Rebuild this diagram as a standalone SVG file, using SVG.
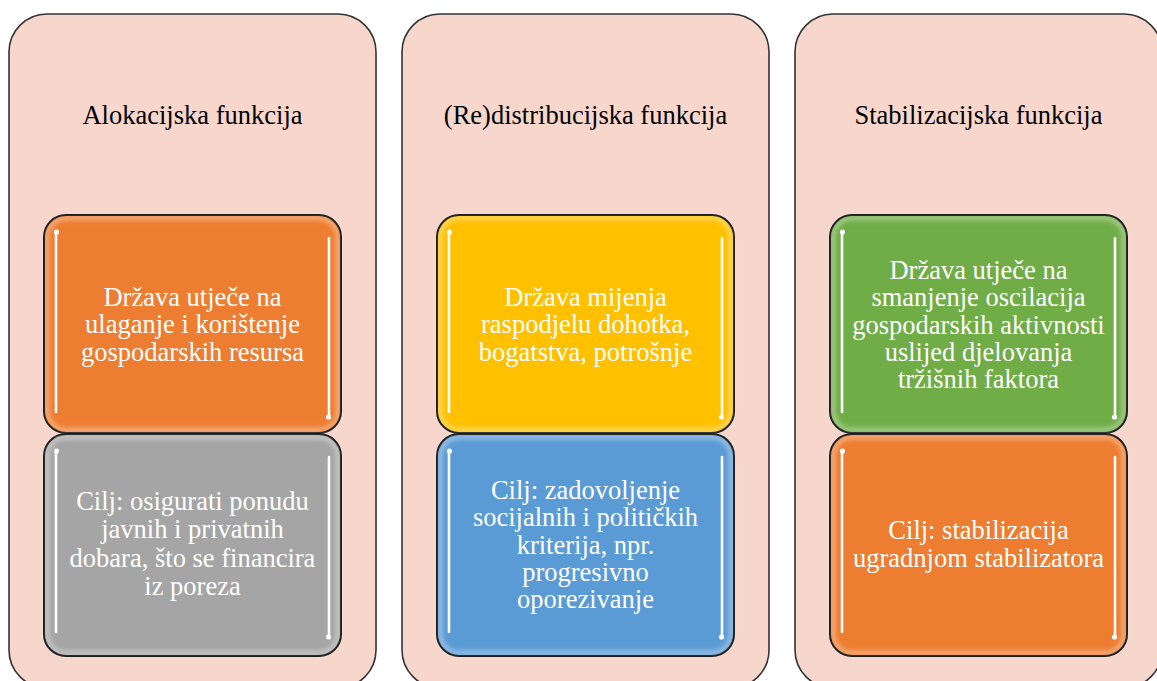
<svg xmlns="http://www.w3.org/2000/svg" width="1157" height="681" viewBox="0 0 1157 681">
<defs>
<filter id="soft" x="-20%" y="-20%" width="140%" height="140%"><feGaussianBlur stdDeviation="2"/></filter>
<filter id="glow" x="-200%" y="-10%" width="500%" height="120%"><feGaussianBlur stdDeviation="1.6"/></filter>
</defs>
<style>
.panel{fill:#F7D6CC;stroke:#333;stroke-width:1.6}
.title{font-family:"Liberation Serif","Times New Roman",serif;font-size:26.5px;fill:#000;text-anchor:middle}
.box{stroke:#000;stroke-width:2}
.edge{fill:none;stroke:#fff;stroke-opacity:0.35;stroke-width:5;filter:url(#soft)}
.halo{stroke:#fff;stroke-opacity:0.6;stroke-width:7;stroke-linecap:round;filter:url(#glow)}
.bar{stroke:#fff;stroke-width:2.6;stroke-linecap:round}
.dot{fill:#fff}
.txt{font-family:"Liberation Serif","Times New Roman",serif;font-size:26.5px;fill:#fff;text-anchor:middle}
</style>
<rect width="1157" height="681" fill="#fff"/>

<g id="panel-alokacijska">
<rect class="panel" x="9" y="14" width="367" height="674" rx="38"/>
<text class="title" x="192.5" y="124">Alokacijska funkcija</text>
</g>
<g id="panel-redistribucijska">
<rect class="panel" x="402" y="14" width="367" height="674" rx="38"/>
<text class="title" x="585.5" y="124">(Re)distribucijska funkcija</text>
</g>
<g id="panel-stabilizacijska">
<rect class="panel" x="795" y="14" width="367" height="674" rx="38"/>
<text class="title" x="978.5" y="124">Stabilizacijska funkcija</text>
</g>

<g id="box-alok-1">
<rect class="box" x="44" y="215" width="297" height="218" rx="22" fill="#ED7D31"/>
<rect class="edge" x="47" y="218" width="291" height="212" rx="19"/>
<line class="halo" x1="56" y1="232" x2="56" y2="412"/><line class="bar" x1="56" y1="232" x2="56" y2="412"/><circle class="dot" cx="56.5" cy="232" r="2.6"/>
<line class="halo" x1="329" y1="238" x2="329" y2="417"/><line class="bar" x1="329" y1="238" x2="329" y2="417"/><circle class="dot" cx="328.5" cy="417" r="2.6"/>
<text class="txt" x="192.5" y="306">Država utječe na</text>
<text class="txt" x="192.5" y="333.3">ulaganje i korištenje</text>
<text class="txt" x="192.5" y="360.6">gospodarskih resursa</text>
</g>
<g id="box-alok-2">
<rect class="box" x="44" y="434" width="297" height="222" rx="22" fill="#A5A5A5"/>
<rect class="edge" x="47" y="437" width="291" height="216" rx="19"/>
<line class="halo" x1="56" y1="451" x2="56" y2="632"/><line class="bar" x1="56" y1="451" x2="56" y2="632"/><circle class="dot" cx="56.5" cy="451" r="2.6"/>
<line class="halo" x1="329" y1="457" x2="329" y2="637"/><line class="bar" x1="329" y1="457" x2="329" y2="637"/><circle class="dot" cx="328.5" cy="637" r="2.6"/>
<text class="txt" x="192.5" y="510">Cilj: osigurati ponudu</text>
<text class="txt" x="192.5" y="538.3">javnih i privatnih</text>
<text class="txt" x="192.5" y="566.6">dobara, što se financira</text>
<text class="txt" x="192.5" y="594.6">iz poreza</text>
</g>

<g id="box-redis-1">
<rect class="box" x="437" y="215" width="297" height="218" rx="22" fill="#FFC000"/>
<rect class="edge" x="440" y="218" width="291" height="212" rx="19"/>
<line class="halo" x1="449" y1="232" x2="449" y2="412"/><line class="bar" x1="449" y1="232" x2="449" y2="412"/><circle class="dot" cx="449.5" cy="232" r="2.6"/>
<line class="halo" x1="722" y1="238" x2="722" y2="417"/><line class="bar" x1="722" y1="238" x2="722" y2="417"/><circle class="dot" cx="721.5" cy="417" r="2.6"/>
<text class="txt" x="585.5" y="306">Država mijenja</text>
<text class="txt" x="585.5" y="333.3">raspodjelu dohotka,</text>
<text class="txt" x="585.5" y="360.6">bogatstva, potrošnje</text>
</g>
<g id="box-redis-2">
<rect class="box" x="437" y="434" width="297" height="222" rx="22" fill="#5B9BD5"/>
<rect class="edge" x="440" y="437" width="291" height="216" rx="19"/>
<line class="halo" x1="449" y1="451" x2="449" y2="632"/><line class="bar" x1="449" y1="451" x2="449" y2="632"/><circle class="dot" cx="449.5" cy="451" r="2.6"/>
<line class="halo" x1="722" y1="457" x2="722" y2="637"/><line class="bar" x1="722" y1="457" x2="722" y2="637"/><circle class="dot" cx="721.5" cy="637" r="2.6"/>
<text class="txt" x="585.5" y="499">Cilj: zadovoljenje</text>
<text class="txt" x="585.5" y="526.3">socijalnih i političkih</text>
<text class="txt" x="585.5" y="553.6">kriterija, npr.</text>
<text class="txt" x="585.5" y="580.9">progresivno</text>
<text class="txt" x="585.5" y="608.2">oporezivanje</text>
</g>

<g id="box-stab-1">
<rect class="box" x="830" y="215" width="297" height="218" rx="22" fill="#70AD47"/>
<rect class="edge" x="833" y="218" width="291" height="212" rx="19"/>
<line class="halo" x1="842" y1="232" x2="842" y2="412"/><line class="bar" x1="842" y1="232" x2="842" y2="412"/><circle class="dot" cx="842.5" cy="232" r="2.6"/>
<line class="halo" x1="1115" y1="238" x2="1115" y2="417"/><line class="bar" x1="1115" y1="238" x2="1115" y2="417"/><circle class="dot" cx="1114.5" cy="417" r="2.6"/>
<text class="txt" x="978.5" y="279">Država utječe na</text>
<text class="txt" x="978.5" y="306.3">smanjenje oscilacija</text>
<text class="txt" x="978.5" y="333.6">gospodarskih aktivnosti</text>
<text class="txt" x="978.5" y="360.9">uslijed djelovanja</text>
<text class="txt" x="978.5" y="388.2">tržišnih faktora</text>
</g>
<g id="box-stab-2">
<rect class="box" x="830" y="434" width="297" height="222" rx="22" fill="#ED7D31"/>
<rect class="edge" x="833" y="437" width="291" height="216" rx="19"/>
<line class="halo" x1="842" y1="451" x2="842" y2="632"/><line class="bar" x1="842" y1="451" x2="842" y2="632"/><circle class="dot" cx="842.5" cy="451" r="2.6"/>
<line class="halo" x1="1115" y1="457" x2="1115" y2="637"/><line class="bar" x1="1115" y1="457" x2="1115" y2="637"/><circle class="dot" cx="1114.5" cy="637" r="2.6"/>
<text class="txt" x="978.5" y="539">Cilj: stabilizacija</text>
<text class="txt" x="978.5" y="566.5">ugradnjom stabilizatora</text>
</g>
</svg>
